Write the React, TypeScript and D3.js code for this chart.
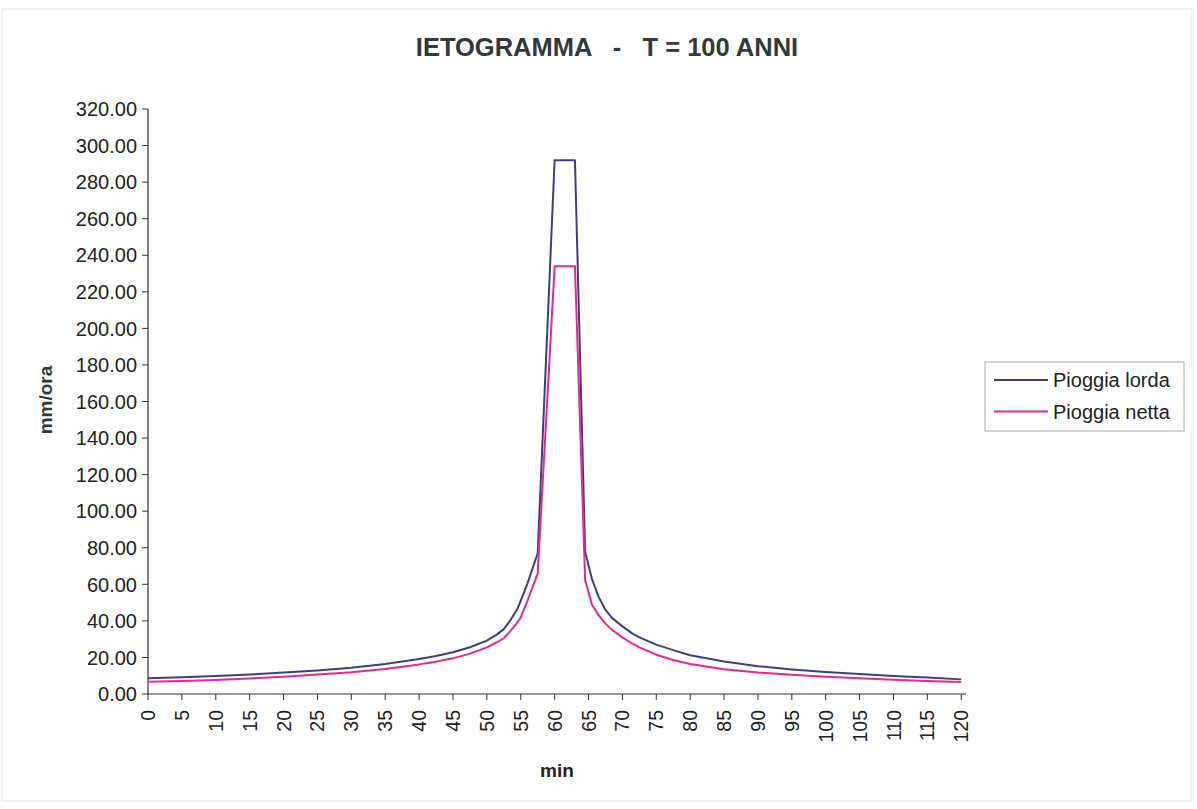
import * as React from 'react';
import * as d3 from 'd3';

// minutes from start of the event
const minutes = [
    0, 5, 10, 15, 20, 25, 30, 35, 40, 42.5, 45, 47.5, 50, 51.5, 52.5, 53.5, 54.5, 55, 56, 57.5,
    60, 63, 64.5, 65.5, 66.5, 67.5, 68.5, 70, 71.5, 72.5, 75, 77.5, 80, 85, 90, 95,
    100, 105, 110, 115, 120,
];
// intensities, mm/ora
const pioggiaLorda = [
    8.6, 9.1, 9.8, 10.6, 11.7, 12.9, 14.4, 16.4, 19.1, 20.8, 22.8, 25.6, 29.2, 32.6, 35.5, 40.5, 46.5, 51, 60.5, 77,
    292, 292, 78, 63, 53, 46, 41.5, 37, 33, 31, 27, 24, 21.2, 17.8, 15.2, 13.4,
    12.0, 10.9, 9.9, 9.0, 8.0,
];
const pioggiaNetta = [
    6.7, 7.1, 7.7, 8.5, 9.5, 10.6, 11.9, 13.7, 16.2, 17.7, 19.5, 22.1, 25.5, 28.3, 30.5, 34.5, 39, 42, 51, 66,
    234, 234, 62.4, 49, 43, 38.5, 35, 31, 27.5, 25.5, 21.5, 18.6, 16.4, 13.6, 11.8, 10.5,
    9.5, 8.6, 7.8, 7.1, 6.5,
];
const xTicks = d3.range(0, 121, 5);
const yTicks = d3.range(0, 321, 20);

const series = [
    { name: 'Pioggia lorda', values: pioggiaLorda, color: '#3b3f88' },
    { name: 'Pioggia netta', values: pioggiaNetta, color: '#e8288c' },
];

export default function App() {
    const w = 1197;
    const h = 809;
    const left = 148;
    const top = 109;
    const bottom = 694;
    const right = 966;

    const x = d3.scaleLinear().domain([0, 120.7]).range([left, right]);
    const y = d3.scaleLinear().domain([0, 320]).range([bottom, top]);

    const line = d3.line<number>()
        .x((_, i) => x(minutes[i]))
        .y(d => y(d));

    const font = 'Arial, "Liberation Sans", sans-serif';

    return (
        <div style={{ position: 'absolute', left: 0, top: 0 }}>
            <svg width={w} height={h} style={{ display: 'block', background: '#fff' }} fontFamily={font}>
                <rect x={2} y={9} width={1190} height={792} fill="none" stroke="#e4e4e4" />

                <text x={607} y={56} textAnchor="middle" fontSize={25.5} fontWeight="bold"
                    fill="#2f3b3b" style={{ whiteSpace: 'pre' }}>
                    {'IETOGRAMMA   -   T = 100 ANNI'}
                </text>

                {/* y axis */}
                <line x1={left} x2={left} y1={top} y2={bottom} stroke="#333" strokeWidth={1.2} />
                {yTicks.map(t => (
                    <g key={t} transform={`translate(0, ${y(t)})`}>
                        <line x1={left - 6} x2={left} stroke="#333" />
                        <text x={left - 11} dy="0.36em" textAnchor="end" fontSize={20} fill="#222">
                            {t.toFixed(2)}
                        </text>
                    </g>
                ))}
                <text transform={`translate(52, 400) rotate(-90)`} textAnchor="middle"
                    fontSize={19} fontWeight="bold" fill="#2d3b38">mm/ora</text>

                {/* x axis */}
                <line x1={left} x2={right} y1={bottom} y2={bottom} stroke="#333" strokeWidth={1.2} />
                {xTicks.map(t => (
                    <g key={t} transform={`translate(${x(t)}, 0)`}>
                        <line y1={bottom} y2={bottom + 6} stroke="#333" />
                        <text transform={`translate(0, 710) rotate(-90)`} dy="0.36em" textAnchor="end"
                            fontSize={19.5} fill="#222">{t}</text>
                    </g>
                ))}
                <text x={557} y={777} textAnchor="middle" fontSize={19} fontWeight="bold" fill="#222">min</text>

                {/* curves */}
                {series.map(s => (
                    <path key={s.name} d={line(s.values) ?? ''} fill="none" stroke={s.color}
                        strokeWidth={2} strokeLinejoin="round" />
                ))}

                {/* legend */}
                <rect x={985} y={362} width={199} height={69} fill="#fff" stroke="#aaa" />
                {series.map((s, i) => (
                    <g key={s.name} transform={`translate(0, ${380 + i * 31.5})`}>
                        <line x1={994} x2={1048} stroke={s.color} strokeWidth={1.8} />
                        <text x={1053} dy="0.36em" fontSize={20} fill="#222">{s.name}</text>
                    </g>
                ))}
            </svg>
        </div>
    );
}
